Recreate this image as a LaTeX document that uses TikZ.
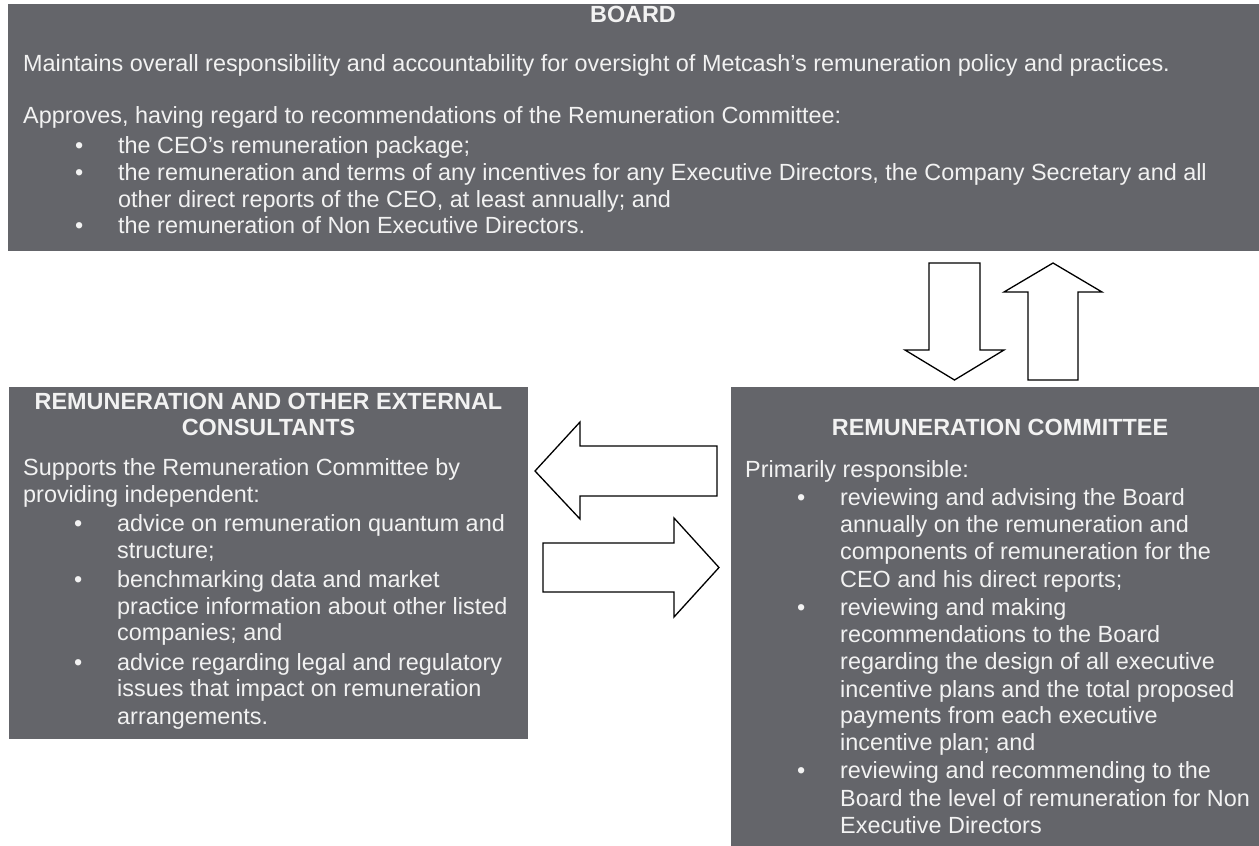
\documentclass[tikz,border=0pt]{standalone}
\usepackage{fontspec}
\setmainfont{Liberation Sans}
\definecolor{boxgrey}{RGB}{100,101,106}
\definecolor{txtcol}{RGB}{242,242,242}
\newcommand\bl{\llap{\textbullet\hspace{35pt}}}
\begin{document}
\begin{tikzpicture}[x=1pt,y=-1pt,
  txt/.style={anchor=base west,inner sep=0pt,text=txtcol,font=\fontsize{23.4}{27}\selectfont},
  hdr/.style={anchor=base,inner sep=0pt,text=txtcol,font=\fontsize{23.4}{27}\selectfont\bfseries},
  panel/.style={fill=boxgrey},
  blockarrow/.style={draw=black,fill=white,line width=1.3pt,line join=miter}]
\useasboundingbox (0,0) rectangle (1259,846);
% panels
\fill[panel] (8,4) rectangle (1259,251);
\fill[panel] (9,387) rectangle (528,739);
\fill[panel] (731,387) rectangle (1259,846);
% block arrows
\draw[blockarrow] (929,263) -- (980,263) -- (980,350) -- (1004,350) -- (954.5,380) -- (905,350) -- (929,350) -- cycle;
\draw[blockarrow] (1028,380) -- (1078,380) -- (1078,292) -- (1102,292) -- (1053,263) -- (1004,292) -- (1028,292) -- cycle;
\draw[blockarrow] (717,446) -- (580,446) -- (580,422) -- (535,471) -- (580,519) -- (580,496) -- (717,496) -- cycle;
\draw[blockarrow] (543,543) -- (674,543) -- (674,518) -- (719,567.5) -- (674,617) -- (674,592) -- (543,592) -- cycle;
% board
\node[hdr] (bh) at (633,22) {BOARD};
\node[txt] (b1) at (23,71) {Maintains overall responsibility and accountability for oversight of Metcash’s remuneration policy and practices.};
\node[txt] (b2) at (23,123) {Approves, having regard to recommendations of the Remuneration Committee:};
\node[txt] (b3) at (118,153) {\bl the CEO’s remuneration package;};
\node[txt] (b4) at (118,180) {\bl the remuneration and terms of any incentives for any Executive Directors, the Company Secretary and all};
\node[txt] (b5) at (118,207) {other direct reports of the CEO, at least annually; and};
\node[txt] (b6) at (118,233) {\bl the remuneration of Non Executive Directors.};
% consultants
\node[hdr] (ch1) at (268.5,409) {REMUNERATION AND OTHER EXTERNAL};
\node[hdr] (ch2) at (268.5,435) {CONSULTANTS};
\node[txt] (c1) at (23,475) {Supports the Remuneration Committee by};
\node[txt] (c2) at (23,502) {providing independent:};
\node[txt] (c3) at (117,531) {\bl advice on remuneration quantum and};
\node[txt] (c4) at (117,558) {structure;};
\node[txt] (c5) at (117,587) {\bl benchmarking data and market};
\node[txt] (c6) at (117,614) {practice information about other listed};
\node[txt] (c7) at (117,640) {companies; and};
\node[txt] (c8) at (117,670) {\bl advice regarding legal and regulatory};
\node[txt] (c9) at (117,696) {issues that impact on remuneration};
\node[txt] (c10) at (117,724) {arrangements.};
% committee
\node[hdr] (rh) at (1000,435) {REMUNERATION COMMITTEE};
\node[txt] (r1) at (745,477) {Primarily responsible:};
\node[txt] (r2) at (840,505) {\bl reviewing and advising the Board};
\node[txt] (r3) at (840,532) {annually on the remuneration and};
\node[txt] (r4) at (840,559) {components of remuneration for the};
\node[txt] (r5) at (840,587) {CEO and his direct reports;};
\node[txt] (r6) at (840,615) {\bl reviewing and making};
\node[txt] (r7) at (840,642) {recommendations to the Board};
\node[txt] (r8) at (840,669) {regarding the design of all executive};
\node[txt] (r9) at (840,697) {incentive plans and the total proposed};
\node[txt] (r10) at (840,723) {payments from each executive};
\node[txt] (r11) at (840,750) {incentive plan; and};
\node[txt] (r12) at (840,778) {\bl reviewing and recommending to the};
\node[txt] (r13) at (840,806) {Board the level of remuneration for Non};
\node[txt] (r14) at (840,833) {Executive Directors};
\end{tikzpicture}
\end{document}
